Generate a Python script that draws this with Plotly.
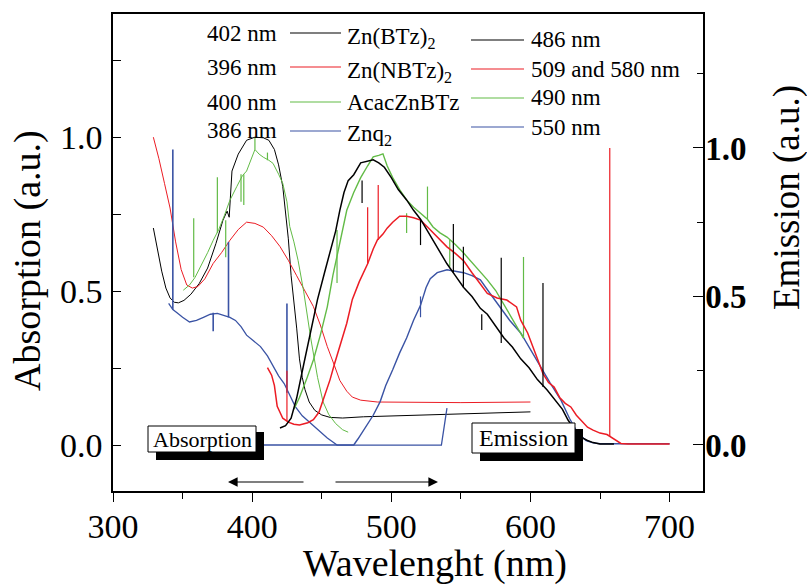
import plotly.graph_objects as go

# ---------------- data ----------------
# Absorption (left axis)
babs_x = [329, 332, 335, 338, 341, 344, 347, 351, 356, 362, 368, 374, 379, 382, 383.5, 385.5, 390, 396, 402, 408,
          412, 416, 419, 422, 424, 426, 428, 430, 432, 434, 436, 438, 441, 445, 450, 456, 465, 480, 520, 560, 600]
babs_y = [0.705, 0.63, 0.565, 0.51, 0.478, 0.464, 0.462, 0.47, 0.49, 0.525, 0.575, 0.655, 0.73, 0.76, 0.74, 0.89, 0.945, 0.99, 1.0, 0.998,
          0.99, 0.96, 0.91, 0.84, 0.76, 0.67, 0.55, 0.47, 0.38, 0.28, 0.22, 0.18, 0.14, 0.113, 0.098, 0.09, 0.088, 0.092, 0.098, 0.103, 0.108]

rabs_x = [329, 333, 337, 341, 345, 349, 353, 357, 361, 366, 372, 378, 384, 390, 396, 402, 408, 414, 420, 426,
          432, 438, 444, 449, 454, 459, 463, 468, 472, 478, 490, 550, 600]
rabs_y = [1.0, 0.93, 0.85, 0.77, 0.66, 0.57, 0.52, 0.51, 0.515, 0.54, 0.59, 0.625, 0.665, 0.7, 0.724, 0.72, 0.708, 0.68, 0.645, 0.6,
          0.55, 0.5, 0.45, 0.39, 0.32, 0.26, 0.21, 0.175, 0.156, 0.146, 0.14, 0.138, 0.14]

gabs_x = [350.5, 355, 359, 363, 368, 372, 376, 380, 384, 389, 393, 396, 399, 402, 405, 408, 412, 415, 419, 422,
          425, 427, 430, 433, 437, 442, 447, 451, 455, 460, 465, 469]
gabs_y = [0.503, 0.52, 0.545, 0.58, 0.625, 0.665, 0.7, 0.745, 0.795, 0.84, 0.875, 0.89, 0.925, 0.96, 0.945, 0.935, 0.925, 0.915, 0.88, 0.85,
          0.79, 0.71, 0.66, 0.6, 0.5, 0.35, 0.22, 0.14, 0.1, 0.07, 0.05, 0.042]
gabs_spike_x = [358, 375, 381, 392, 394, 402, 411]
gabs_spike_hi = [0.737, 0.87, 0.73, 0.88, 0.88, 1.0, 0.95]
gabs_spike_lo = [0.545, 0.69, 0.61, 0.79, 0.78, 0.96, 0.925]

qabs_x = [340, 343, 346, 350, 355, 360, 365, 370, 375, 380, 384, 388, 392, 396, 401, 406, 411, 415, 419, 423,
          427, 431, 436, 442, 448, 454, 458, 461, 470, 480, 500, 520, 536, 538, 540]
qabs_y = [0.46, 0.44, 0.43, 0.415, 0.40, 0.405, 0.415, 0.425, 0.428, 0.42, 0.415, 0.405, 0.385, 0.357, 0.34, 0.32, 0.29, 0.255, 0.225, 0.2,
          0.16, 0.125, 0.095, 0.07, 0.045, 0.023, 0.01, 0.0, 0.0, 0.0, 0.0, 0.0, 0.0, 0.06, 0.12]
qabs_spike_x = [343, 372, 383, 425]
qabs_spike_hi = [0.96, 0.43, 0.66, 0.46]
qabs_spike_lo = [0.44, 0.37, 0.415, 0.17]

# Emission (right axis)
bem_x = [420, 424, 428, 432, 437, 442, 447, 452, 456, 460, 463, 466, 469, 473, 478, 483, 487, 491, 495, 500,
         505, 511, 516, 521, 526, 530, 535, 540, 546, 552, 558, 564, 569, 575, 581, 587, 593, 599, 605, 612,
         618, 623, 627, 632, 637, 641, 645, 650, 660]
bem_y = [0.057, 0.065, 0.09, 0.158, 0.27, 0.38, 0.49, 0.58, 0.65, 0.72, 0.79, 0.85, 0.89, 0.91, 0.95, 0.955, 0.96, 0.95, 0.935, 0.9,
         0.86, 0.825, 0.79, 0.76, 0.72, 0.69, 0.65, 0.61, 0.57, 0.53, 0.5, 0.46, 0.44, 0.40, 0.36, 0.33, 0.29, 0.26, 0.22, 0.185,
         0.15, 0.12, 0.084, 0.05, 0.025, 0.015, 0.008, 0.003, 0.003]
bem_spike_x = [479, 521, 544.6, 551.8, 565, 579, 609]
bem_spike_hi = [0.89, 0.757, 0.744, 0.667, 0.44, 0.63, 0.545]
bem_spike_lo = [0.815, 0.673, 0.58, 0.53, 0.387, 0.343, 0.195]

rem_x = [411, 414, 416, 418, 422, 426, 430, 434, 440, 444, 448, 451, 454, 456, 459, 463, 468, 472, 477, 483,
         487, 490, 494, 497, 501, 506, 511, 516, 521, 526, 531, 535, 540, 546, 552, 558, 564, 569, 576, 583,
         590, 593, 598, 602, 605, 609, 613, 617, 621, 625, 629, 633, 637, 641, 645, 650, 655, 660, 665, 670, 700]
rem_y = [0.26, 0.235, 0.2, 0.13, 0.09, 0.077, 0.07, 0.067, 0.075, 0.085, 0.11, 0.15, 0.19, 0.22, 0.27, 0.33, 0.41, 0.49, 0.55, 0.61,
         0.66, 0.69, 0.71, 0.73, 0.75, 0.77, 0.77, 0.765, 0.757, 0.734, 0.71, 0.69, 0.667, 0.645, 0.62, 0.58, 0.54, 0.51, 0.495, 0.488,
         0.465, 0.42, 0.377, 0.33, 0.29, 0.24, 0.21, 0.195, 0.16, 0.14, 0.128, 0.10, 0.08, 0.06, 0.05, 0.04, 0.035, 0.02, 0.005, 0.003, 0.003]
rem_spike_x = [425, 483, 490.6, 657]
rem_spike_hi = [0.25, 0.80, 0.875, 1.0]
rem_spike_lo = [0.08, 0.61, 0.69, 0.03]

gem_x = [430, 434, 439, 444, 449, 454, 458, 463, 468, 473, 478, 483, 487, 491, 494, 497, 501, 506, 511, 516,
         521, 526, 530, 535, 540, 546, 552, 558, 564, 569, 575, 580, 585, 590, 595]
gem_y = [0.12, 0.16, 0.22, 0.286, 0.37, 0.465, 0.57, 0.68, 0.79, 0.85, 0.90, 0.94, 0.97, 0.975, 0.98, 0.94, 0.90, 0.86, 0.825, 0.80,
         0.78, 0.76, 0.734, 0.714, 0.70, 0.675, 0.646, 0.615, 0.585, 0.556, 0.52, 0.48, 0.44, 0.40, 0.36]
gem_spike_x = [461, 511, 526, 542, 595]
gem_spike_hi = [0.724, 0.78, 0.87, 0.69, 0.633]
gem_spike_lo = [0.545, 0.714, 0.76, 0.60, 0.36]

qem_x = [400, 473, 476, 480, 483, 487, 492, 496, 501, 506, 511, 516, 521, 525, 528, 533, 540, 546, 552, 558,
         564, 571, 578, 585, 593, 600, 607, 614, 622, 628, 634, 640, 645, 650, 700]
qem_y = [0.0, 0.0, 0.02, 0.05, 0.07, 0.1, 0.146, 0.2, 0.253, 0.31, 0.36, 0.42, 0.47, 0.53, 0.56, 0.58, 0.59, 0.585, 0.58, 0.57,
         0.556, 0.51, 0.465, 0.42, 0.377, 0.32, 0.263, 0.21, 0.15, 0.09, 0.04, 0.015, 0.007, 0.004, 0.004]
qem_spike_x = [521]
qem_spike_hi = [0.5]
qem_spike_lo = [0.43]

abs_peaks = ["402 nm", "396 nm", "400 nm", "386 nm"]
compounds = ["Zn(BTz)<sub>2</sub>", "Zn(NBTz)<sub>2</sub>", "AcacZnBTz", "Znq<sub>2</sub>"]
em_peaks = ["486 nm", "509 and 580 nm", "490 nm", "550 nm"]

# ---------------- styling ----------------
BLACK = "#000000"
RED = "#ec1c24"
GREEN = "#62bb46"
BLUE = "#3a53a4"
colors = [BLACK, RED, GREEN, BLUE]
FONT = "Liberation Serif"

W, H = 807, 586
L, R, T, B = 113, 703, 14, 491   # plot area in pixels
X0, X1 = 300, 724
Y0, Y1 = -0.149, 1.40
Y20, Y21 = -0.155, 1.451


def px(xp):
    return (xp - L) / (R - L)


def py(yp):
    return (B - yp) / (B - T)


def dx(xp):
    return X0 + (xp - L) / (R - L) * (X1 - X0)


def dy(yp):
    return Y0 + (B - yp) / (B - T) * (Y1 - Y0)


fig = go.Figure()


def spikes(xs, hi, lo):
    sx, sy = [], []
    for a, h, l in zip(xs, hi, lo):
        sx += [a, a, None]
        sy += [h, l, None]
    return sx, sy


def add(x, y, color, width, yaxis="y"):
    fig.add_trace(go.Scatter(x=x, y=y, mode="lines", line=dict(color=color, width=width),
                             yaxis=yaxis, showlegend=False, hoverinfo="skip"))


# absorption
add(babs_x, babs_y, BLACK, 1)
add(rabs_x, rabs_y, RED, 1)
add(gabs_x, gabs_y, GREEN, 1)
add(*spikes(gabs_spike_x, gabs_spike_hi, gabs_spike_lo), GREEN, 1.2)
add(qabs_x, qabs_y, BLUE, 1.3)
add(*spikes(qabs_spike_x, qabs_spike_hi, qabs_spike_lo), BLUE, 1.6)
# emission
add(qem_x, qem_y, BLUE, 1.4, "y2")
add(*spikes(qem_spike_x, qem_spike_hi, qem_spike_lo), BLUE, 1.2, "y2")
add(gem_x, gem_y, GREEN, 1.4, "y2")
add(*spikes(gem_spike_x, gem_spike_hi, gem_spike_lo), GREEN, 1.2, "y2")
add(rem_x, rem_y, RED, 1.5, "y2")
add(*spikes(rem_spike_x, rem_spike_hi, rem_spike_lo), RED, 1.2, "y2")
add(bem_x, bem_y, BLACK, 1.5, "y2")
add(*spikes(bem_spike_x, bem_spike_hi, bem_spike_lo), BLACK, 1.2, "y2")

shapes = []
annotations = []

# legend (text + sample lines)
left_rows = [34, 68, 102, 131]
left_lines = [33, 67, 102, 131]
right_rows = [40, 69, 98, 127]
for i in range(4):
    annotations.append(dict(xref="paper", yref="paper", x=px(205), y=py(left_rows[i]), text=abs_peaks[i],
                            xanchor="left", yanchor="middle", showarrow=False,
                            font=dict(family=FONT, size=23, color="black")))
    annotations.append(dict(xref="paper", yref="paper", x=px(345), y=py(left_rows[i] + (4 if "sub" in compounds[i] else 0)),
                            text=compounds[i], xanchor="left", yanchor="middle", showarrow=False,
                            font=dict(family=FONT, size=23, color="black")))
    shapes.append(dict(type="line", xref="paper", yref="paper", x0=px(290), x1=px(341),
                       y0=py(left_lines[i]), y1=py(left_lines[i]), line=dict(color=colors[i], width=1.2)))
    annotations.append(dict(xref="paper", yref="paper", x=px(529), y=py(right_rows[i]), text=em_peaks[i],
                            xanchor="left", yanchor="middle", showarrow=False,
                            font=dict(family=FONT, size=23, color="black")))
    shapes.append(dict(type="line", xref="paper", yref="paper", x0=px(471), x1=px(524),
                       y0=py(right_rows[i]), y1=py(right_rows[i]), line=dict(color=colors[i], width=1.2)))

# boxed labels with drop shadow
for (bx0, bx1, by0, by1, label, fs) in [(148, 256, 426, 452, "Absorption", 22), (472, 575, 423, 453, "Emission", 24)]:
    shapes.append(dict(type="rect", xref="x", yref="y", x0=dx(bx0 + 8), x1=dx(bx1 + 8), y0=dy(by0 + 6), y1=dy(by1 + 8),
                       fillcolor="black", line=dict(color="black", width=0)))
    shapes.append(dict(type="rect", xref="x", yref="y", x0=dx(bx0), x1=dx(bx1), y0=dy(by0), y1=dy(by1),
                       fillcolor="white", line=dict(color="black", width=1)))
    annotations.append(dict(xref="x", yref="y", x=dx((bx0 + bx1) / 2), y=dy((by0 + by1) / 2), text=label,
                            showarrow=False, xanchor="center", yanchor="middle",
                            font=dict(family=FONT, size=fs, color="black")))

# direction arrows
for (x_from, x_to) in [(305, 228), (334, 438)]:
    annotations.append(dict(xref="x", yref="y", axref="x", ayref="y", x=dx(x_to), y=dy(482),
                            ax=dx(x_from), ay=dy(482), text="", showarrow=True, arrowhead=2,
                            arrowsize=1.6, arrowwidth=1.2, arrowcolor="black", standoff=0))

# axis titles
annotations.append(dict(xref="paper", yref="paper", x=px(27), y=py(261), text="Absorption (a.u.)", textangle=-90,
                        showarrow=False, xanchor="center", yanchor="middle",
                        font=dict(family=FONT, size=38, color="black")))
annotations.append(dict(xref="paper", yref="paper", x=px(787), y=py(198), text="Emission (a.u.)", textangle=-90,
                        showarrow=False, xanchor="center", yanchor="middle",
                        font=dict(family=FONT, size=37, color="black")))
annotations.append(dict(xref="paper", yref="paper", x=px(435), y=py(563), text="Wavelenght (nm)",
                        showarrow=False, xanchor="center", yanchor="middle",
                        font=dict(family=FONT, size=38, color="black")))

fig.update_layout(
    width=W, height=H,
    margin=dict(l=L, r=W - R, t=T, b=H - B, pad=0),
    paper_bgcolor="white", plot_bgcolor="white",
    showlegend=False,
    shapes=shapes, annotations=annotations,
    xaxis=dict(range=[X0, X1], tickvals=[300, 400, 500, 600, 700], ticks="outside", ticklen=9, tickwidth=1.3,
               minor=dict(tickvals=[350, 450, 550, 650], ticks="outside", ticklen=6, tickwidth=1.3, tickcolor="black"),
               tickcolor="black", showline=True, linecolor="black", linewidth=1.5, mirror=True,
               showgrid=False, zeroline=False, ticklabelstandoff=-5,
               tickfont=dict(family=FONT, size=34, color="black")),
    yaxis=dict(range=[Y0, Y1], tickvals=[0, 0.5, 1.0], ticktext=["0.0", "0.5", "1.0"], ticks="inside", ticklen=8,
               tickwidth=1.3, tickcolor="black",
               minor=dict(tickvals=[0.25, 0.75, 1.25], ticks="inside", ticklen=8, tickwidth=1.3, tickcolor="black"),
               showline=True, linecolor="black", linewidth=1.5, showgrid=False, zeroline=False,
               ticklabelstandoff=2,
               tickfont=dict(family=FONT, size=34, color="black")),
    yaxis2=dict(range=[Y20, Y21], overlaying="y", side="right", tickvals=[0, 0.5, 1.0],
                ticktext=["0.0", "0.5", "1.0"], ticks="inside", ticklen=10, tickwidth=1.3, tickcolor="black",
                minor=dict(tickvals=[0.25, 0.75, 1.25], ticks="inside", ticklen=6, tickwidth=1.3, tickcolor="black"),
                showline=True, linecolor="black", linewidth=1.5, showgrid=False, zeroline=False,
                ticklabelstandoff=-6,
                tickfont=dict(family=FONT, size=33, color="black", weight="bold")),
)

fig.write_html("out.html", config={"displayModeBar": False},
               post_script="document.body.style.margin='0';document.body.style.padding='0';")
